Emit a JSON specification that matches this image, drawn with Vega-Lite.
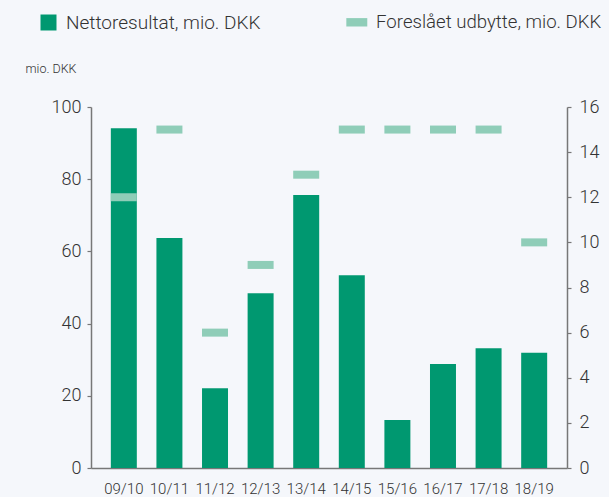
{
  "$schema": "https://vega.github.io/schema/vega-lite/v6.json",
  "width": 476,
  "height": 361,
  "autosize": "none",
  "padding": {"left": 91, "top": 107, "right": 42, "bottom": 29},
  "background": "#f5f7fb",
  "config": {
    "view": {"stroke": null},
    "font": "Roboto",
    "axis": {"grid": false, "domainColor": "#777777", "domainWidth": 1.5, "tickColor": "#777777", "tickWidth": 1.2, "tickSize": 4, "labelColor": "#333333", "labelFont": "Roboto", "labelFontWeight": 300}
  },
  "data": {
    "values": [
      {"year": "09/10", "netto": 94.1, "udbytte": 12},
      {"year": "10/11", "netto": 63.7, "udbytte": 15},
      {"year": "11/12", "netto": 22.1, "udbytte": 6},
      {"year": "12/13", "netto": 48.4, "udbytte": 9},
      {"year": "13/14", "netto": 75.6, "udbytte": 13},
      {"year": "14/15", "netto": 53.4, "udbytte": 15},
      {"year": "15/16", "netto": 13.3, "udbytte": 15},
      {"year": "16/17", "netto": 28.8, "udbytte": 15},
      {"year": "17/18", "netto": 33.2, "udbytte": 15},
      {"year": "18/19", "netto": 31.9, "udbytte": 10}
    ]
  },
  "encoding": {
    "x": {
      "field": "year",
      "type": "ordinal",
      "sort": null,
      "scale": {"paddingInner": 0.43, "paddingOuter": 0.435},
      "axis": {"title": null, "ticks": false, "labelAngle": 0, "labelFontSize": 15, "labelPadding": 13}
    }
  },
  "layer": [
    {
      "mark": {"type": "bar"},
      "encoding": {
        "y": {
          "field": "netto",
          "type": "quantitative",
          "scale": {"domain": [0, 100]},
          "axis": {
            "orient": "left",
            "values": [0, 20, 40, 60, 80, 100],
            "labelFontSize": 18,
            "labelPadding": 6,
            "title": "mio. DKK",
            "titleAngle": 0,
            "titleX": -66,
            "titleY": -39,
            "titleAlign": "left",
            "titleBaseline": "middle",
            "titleFontSize": 12.5,
            "titleFontWeight": 300,
            "titleColor": "#333333"
          }
        },
        "color": {
          "datum": "Nettoresultat, mio. DKK",
          "scale": {"range": ["#009870"]},
          "legend": {
            "orient": "none",
            "legendX": -52,
            "legendY": -94,
            "title": null,
            "padding": 0,
            "symbolType": "M-1,-1H1V1H-1Z",
            "symbolSize": 256,
            "symbolStrokeWidth": 0,
            "symbolOpacity": 1,
            "labelFontSize": 19,
            "labelColor": "#333333",
            "labelFontWeight": 300,
            "labelOffset": 8,
            "labelLimit": 400
          }
        }
      }
    },
    {
      "mark": {"type": "tick", "thickness": 8, "size": 26, "opacity": 1},
      "encoding": {
        "y": {
          "field": "udbytte",
          "type": "quantitative",
          "scale": {"domain": [0, 16]},
          "axis": {"orient": "right", "values": [0, 2, 4, 6, 8, 10, 12, 14, 16], "labelFontSize": 18, "labelPadding": 8, "title": null}
        },
        "color": {
          "datum": "Foreslået udbytte, mio. DKK",
          "scale": {"range": ["#8fcdb8"]},
          "legend": {
            "orient": "none",
            "legendX": 256.5,
            "legendY": -94,
            "title": null,
            "padding": 0,
            "symbolType": "M-1.31,-0.525H1.31V0.525H-1.31Z",
            "symbolSize": 256,
            "symbolFillColor": "#8fcdb8",
            "symbolStrokeWidth": 0,
            "symbolOpacity": 1,
            "labelFontSize": 18.6,
            "labelColor": "#333333",
            "labelFontWeight": 300,
            "labelOffset": 10,
            "labelLimit": 400
          }
        }
      }
    }
  ],
  "resolve": {"scale": {"y": "independent", "color": "independent"}}
}
